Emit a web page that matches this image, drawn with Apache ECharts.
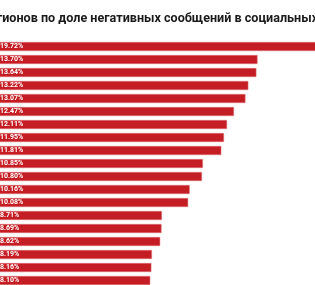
<!DOCTYPE html>
<html>
<head>
<meta charset="utf-8">
<script src="https://cdn.jsdelivr.net/npm/echarts@6/dist/echarts.min.js"></script>
<style>
  html, body { margin: 0; padding: 0; background: #fff; }
  #chart { width: 315px; height: 285px; }
</style>
</head>
<body>
<div id="chart"></div>
<script>
// регионы (названия в кадре не видны)
const regions = ["r1", "r2", "r3", "r4", "r5", "r6", "r7", "r8", "r9", "r10",
  "r11", "r12", "r13", "r14", "r15", "r16", "r17", "r18", "r19"];
// доля негативных сообщений, %
const shares = [19.72, 13.70, 13.64, 13.22, 13.07, 12.47, 12.11, 11.95, 11.81, 10.85,
  10.80, 10.16, 10.08, 8.71, 8.69, 8.62, 8.19, 8.16, 8.10];

const chart = echarts.init(document.getElementById("chart"));

chart.setOption({
  animation: false,
  title: {
    text: "Рейтинг регионов по доле негативных сообщений в социальных сетях",
    left: -73,
    top: 7,
    textStyle: {
      fontFamily: "Roboto",
      fontSize: 12.6,
      fontWeight: "bold",
      color: "#1a1a1a"
    }
  },
  grid: {
    left: 0,
    right: 0,
    top: 40,
    bottom: -2,
    outerBoundsMode: "none"
  },
  // кадр обрезан слева: ноль оси чуть левее края
  xAxis: {
    type: "value",
    min: 0.26,
    max: 16.7,
    show: false
  },
  yAxis: {
    type: "category",
    inverse: true,
    data: regions,
    show: false
  },
  series: [
    {
      type: "bar",
      data: shares,
      barWidth: 9,
      clip: false,
      itemStyle: {
        color: "#c51d24",
        borderColor: "#e07a7e",
        borderWidth: 0.5
      },
      label: {
        show: true,
        position: "insideLeft",
        distance: 5,
        formatter: p => p.value.toFixed(2) + "%",
        color: "#fff",
        fontFamily: "Roboto",
        fontSize: 7,
        fontWeight: "bold"
      }
    }
  ]
});
</script>
</body>
</html>
